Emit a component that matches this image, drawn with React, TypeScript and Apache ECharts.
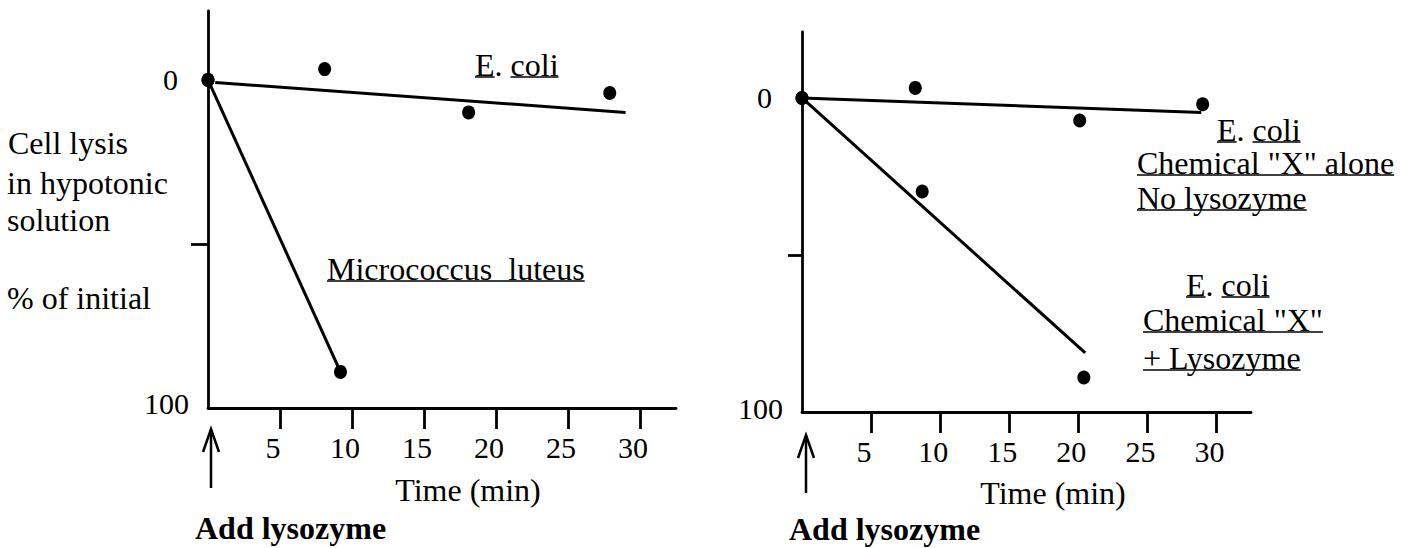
import React, { useEffect, useRef } from "react";
import * as echarts from "echarts";

// ---- data (time in min, cell lysis in % of initial) ----
const xTickValues = [5, 10, 15, 20, 25, 30];
const yLabelValues = [0, 100];
const yTickValues = [50];

// left panel
const leftEcoliTime = [0, 8.1, 18.1, 27.9];
const leftEcoliLysis = [0, -3.3, 9.9, 4.0];
const leftEcoliFitTime = [0.5, 29];
const leftEcoliFitLysis = [0.8, 9.9];
const leftMicroTime = [0, 9.2];
const leftMicroLysis = [0, 89];

// right panel
const rightAloneTime = [0, 8.2, 20.1, 29.0];
const rightAloneLysis = [0, -3.2, 7.2, 2.0];
const rightAloneFitTime = [0, 28.9];
const rightAloneFitLysis = [0, 4.6];
const rightLysoTime = [0, 8.7, 20.4];
const rightLysoLysis = [0, 29.8, 89];
const rightLysoFitTime = [0, 20.5];
const rightLysoFitLysis = [0, 81.2];

const FONT = "'Liberation Serif', 'Times New Roman', serif";
const BLACK = "#000";

const zip = (a: number[], b: number[]) => a.map((v, i) => [v, b[i]]);

function measure(text: string, size: number, bold = false): number {
  const c = document.createElement("canvas").getContext("2d");
  if (!c) return text.length * size * 0.5;
  c.font = `${bold ? "bold " : ""}${size}px 'Liberation Serif', serif`;
  return c.measureText(text).width;
}

type Seg = { t: string; u?: boolean };

function textLine(x: number, y: number, segs: Seg[], size = 32, bold = false): any[] {
  const out: any[] = [];
  let off = 0;
  for (const s of segs) {
    const w = measure(s.t, size, bold);
    out.push({
      type: "text",
      x: x + off,
      y,
      style: {
        text: s.t,
        fontSize: size,
        fontFamily: FONT,
        fontWeight: bold ? "bold" : "normal",
        fill: BLACK,
        align: "left",
        verticalAlign: "middle",
      },
    });
    if (s.u) {
      out.push({
        type: "line",
        shape: { x1: x + off, y1: y + 12, x2: x + off + w, y2: y + 12 },
        style: { stroke: BLACK, lineWidth: 1.5 },
      });
    }
    off += w;
  }
  return out;
}

function centerText(cx: number, y: number, text: string, size = 32): any {
  return {
    type: "text",
    x: cx,
    y,
    style: {
      text,
      fontSize: size,
      fontFamily: FONT,
      fill: BLACK,
      align: "center",
      verticalAlign: "middle",
    },
  };
}

function arrow(x: number, tip: number, bottom: number): any[] {
  return [
    {
      type: "line",
      shape: { x1: x, y1: tip + 1, x2: x, y2: bottom },
      style: { stroke: BLACK, lineWidth: 2.5 },
    },
    {
      type: "polyline",
      shape: { points: [[x - 8, tip + 23], [x, tip], [x + 8, tip + 23]] },
      style: { stroke: BLACK, lineWidth: 2.5, fill: null },
    },
  ];
}

function mkX(gi: number): any {
  return {
    type: "value",
    gridIndex: gi,
    min: 0,
    max: 32.5,
    interval: 5,
    axisLine: { show: true, onZero: false, lineStyle: { color: BLACK, width: 2.8 } },
    axisTick: {
      show: true,
      inside: false,
      length: 21,
      customValues: xTickValues,
      lineStyle: { color: BLACK, width: 2.8 },
    },
    axisLabel: {
      customValues: xTickValues,
      fontSize: 30,
      fontFamily: FONT,
      color: BLACK,
      margin: 24,
      padding: [0, 14, 0, 0],
    },
    splitLine: { show: false },
  };
}

function mkY(gi: number, tickLen: number, upShift: number): any {
  return {
    type: "value",
    gridIndex: gi,
    min: -21,
    max: 100,
    inverse: true,
    axisLine: { show: true, onZero: false, lineStyle: { color: BLACK, width: 2.8 } },
    axisTick: {
      show: true,
      inside: false,
      length: tickLen,
      customValues: yTickValues,
      lineStyle: { color: BLACK, width: 2.8 },
    },
    axisLabel: {
      customValues: yLabelValues,
      margin: 19,
      fontFamily: FONT,
      fontSize: 30,
      color: BLACK,
      formatter: (v: number) => (v === 0 ? "{z|0}" : "{h|100}"),
      rich: {
        z: { fontSize: 30, fontFamily: FONT, color: BLACK, padding: [0, 11, 0, 0] },
        h: { fontSize: 30, fontFamily: FONT, color: BLACK, padding: [0, 0, upShift, 0] },
      },
    },
    splitLine: { show: false },
  };
}

function lineSeries(gi: number, t: number[], v: number[]): any {
  return {
    type: "line",
    xAxisIndex: gi,
    yAxisIndex: gi,
    data: zip(t, v),
    showSymbol: false,
    symbol: "none",
    lineStyle: { color: BLACK, width: 3 },
    z: 2,
    silent: true,
  };
}

function dotSeries(gi: number, t: number[], v: number[]): any {
  return {
    type: "scatter",
    xAxisIndex: gi,
    yAxisIndex: gi,
    data: zip(t, v),
    symbol: "circle",
    symbolSize: [13, 14],
    itemStyle: { color: BLACK, opacity: 1 },
    z: 3,
    silent: true,
  };
}

export default function App() {
  const ref = useRef<HTMLDivElement>(null);
  useEffect(() => {
    if (!ref.current) return;
    const chart = echarts.init(ref.current, null, { renderer: "svg" });
    const graphic: any[] = [
      // left panel texts
      ...textLine(8, 143, [{ t: "Cell lysis" }]),
      ...textLine(7, 183, [{ t: "in hypotonic" }]),
      ...textLine(7, 220, [{ t: "solution" }]),
      ...textLine(7, 298, [{ t: "% of initial" }]),
      ...textLine(475, 65, [{ t: "E", u: true }, { t: ". " }, { t: "coli", u: true }]),
      ...textLine(327, 269, [{ t: "Micrococcus  luteus", u: true }]),
      centerText(468, 490, "Time (min)"),
      ...textLine(195, 528, [{ t: "Add lysozyme" }], 32, true),
      ...arrow(211, 429, 488),
      // right panel texts
      ...textLine(1217, 130, [{ t: "E", u: true }, { t: ". " }, { t: "coli", u: true }]),
      ...textLine(1137, 163, [{ t: 'Chemical "X" alone', u: true }]),
      ...textLine(1137, 198, [{ t: "No lysozyme", u: true }]),
      ...textLine(1186, 285, [{ t: "E", u: true }, { t: ". " }, { t: "coli", u: true }]),
      ...textLine(1143, 320, [{ t: 'Chemical "X"', u: true }]),
      ...textLine(1143, 358, [{ t: "+ Lysozyme", u: true }]),
      centerText(1053, 493, "Time (min)"),
      ...textLine(789, 529, [{ t: "Add lysozyme" }], 32, true),
      ...arrow(806, 435, 493),
    ];
    chart.setOption({
      animation: false,
      backgroundColor: "#fff",
      textStyle: { fontFamily: FONT },
      grid: [
        { left: 208, top: 11, width: 468, height: 397, containLabel: false },
        { left: 802, top: 32, width: 449, height: 380, containLabel: false },
      ],
      xAxis: [mkX(0), mkX(1)],
      yAxis: [mkY(0, 17, 10), mkY(1, 14, 8)],
      series: [
        lineSeries(0, leftEcoliFitTime, leftEcoliFitLysis),
        lineSeries(0, leftMicroTime, leftMicroLysis),
        dotSeries(0, leftEcoliTime, leftEcoliLysis),
        dotSeries(0, leftMicroTime, leftMicroLysis),
        lineSeries(1, rightAloneFitTime, rightAloneFitLysis),
        lineSeries(1, rightLysoFitTime, rightLysoFitLysis),
        dotSeries(1, rightAloneTime, rightAloneLysis),
        dotSeries(1, rightLysoTime, rightLysoLysis),
      ],
      graphic,
    });
    return () => chart.dispose();
  }, []);
  return (
    <div
      ref={ref}
      style={{ position: "fixed", left: 0, top: 0, width: 1401, height: 548, background: "#fff" }}
    />
  );
}
